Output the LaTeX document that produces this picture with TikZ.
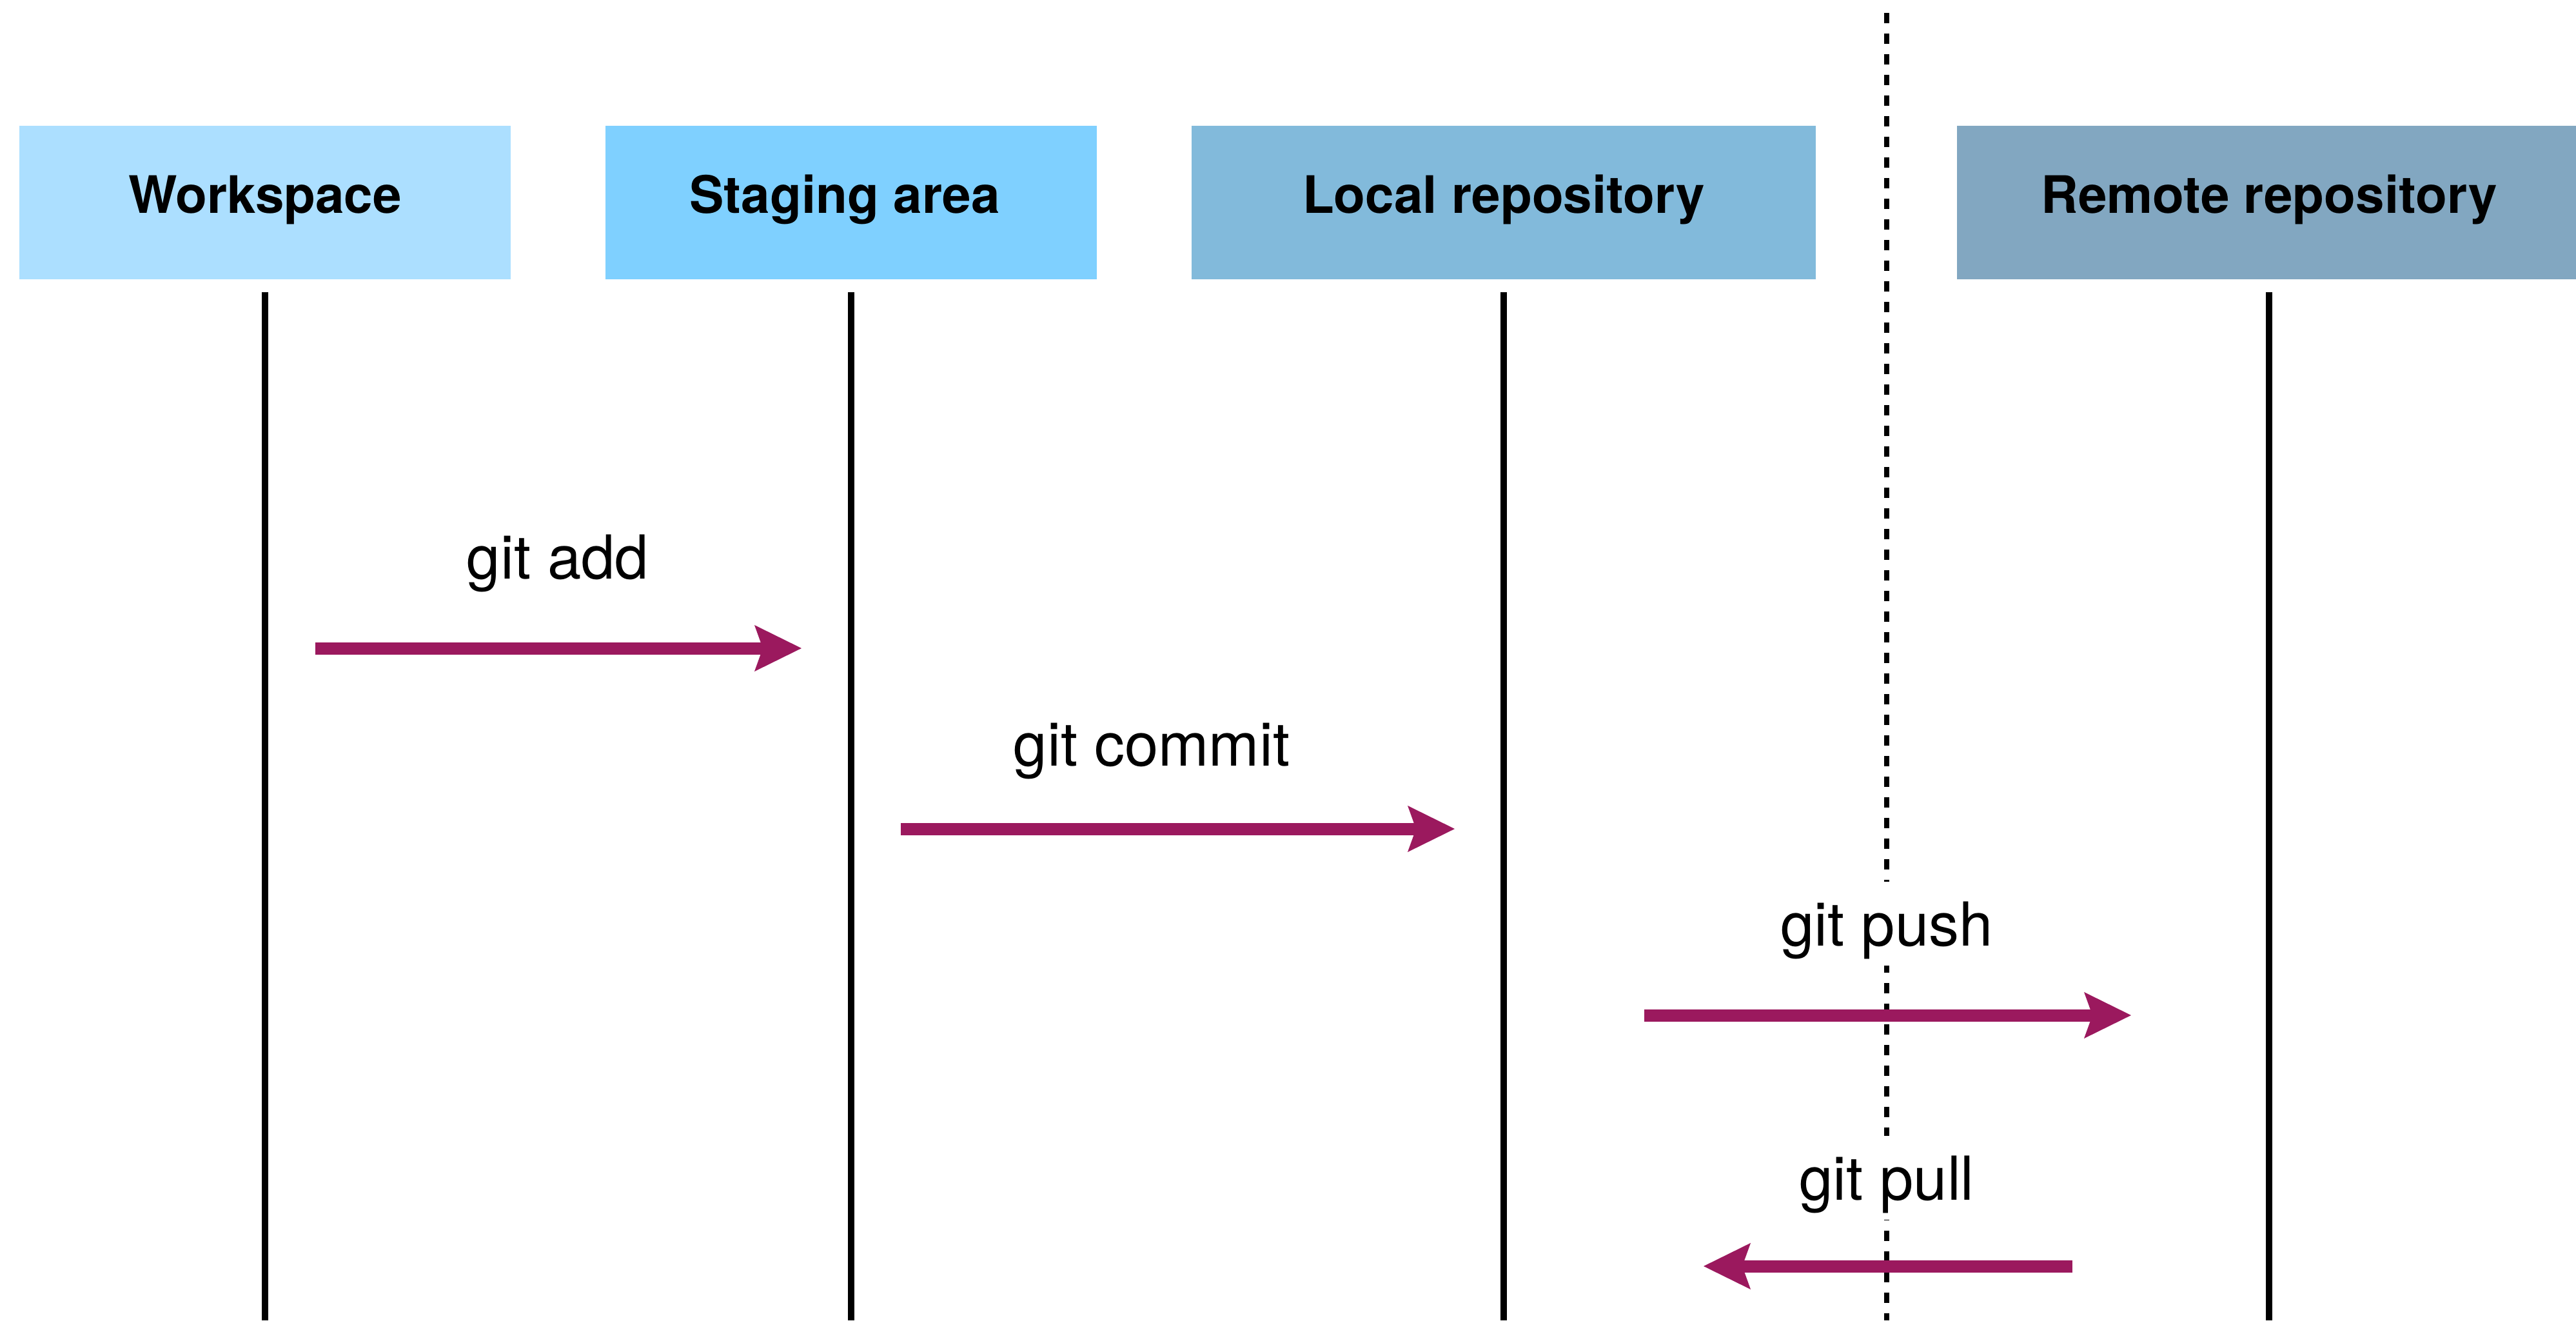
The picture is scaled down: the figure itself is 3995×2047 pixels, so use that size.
\documentclass[tikz,border=0pt]{standalone}
\usepackage{fontspec}
\setmainfont{TeX Gyre Heros}
\usetikzlibrary{arrows.meta}

\definecolor{wsblue}{RGB}{172,223,255}
\definecolor{stblue}{RGB}{127,208,255}
\definecolor{lrblue}{RGB}{130,186,219}
\definecolor{rrblue}{RGB}{130,167,193}
\definecolor{gitpurple}{RGB}{155,25,94}

\begin{document}
\begin{tikzpicture}[x=0.25pt,y=-0.25pt,
  header/.style={rectangle, minimum height=59.5pt, inner sep=0pt,
    font=\fontsize{20}{24}\selectfont\bfseries, text height=12pt, text depth=4pt},
  narrowhdr/.style={header, minimum width=190.5pt},
  widehdr/.style={header, minimum width=242pt},
  lifeline/.style={line width=2.5pt},
  divider/.style={line width=1.9pt, dash pattern=on 3.9pt off 4.1pt},
  flow/.style={line width=4.75pt, draw=gitpurple,
    -{Stealth[length=18.25pt,width=18pt,inset=3.25pt,line width=0pt]}},
  cmd/.style={fill=white, inner xsep=2pt, inner ysep=0pt, anchor=base,
    text height=24.75pt, text depth=7.75pt, font=\fontsize{23.5}{28}\selectfont}
]
\path[use as bounding box, clip] (0,0) rectangle (3995,2047);

% column headers
\node[narrowhdr, fill=wsblue] (ws) at (411,314)  {Workspace};
\node[narrowhdr, fill=stblue] (sa) at (1320,314) {Staging area\hspace*{5pt}};
\node[widehdr,   fill=lrblue] (lr) at (2332,314) {Local repository};
\node[widehdr,   fill=rrblue] (rr) at (3519,314) {Remote repository};

% lifelines down to the bottom edge
\coordinate (floor) at (0,2047);
\foreach \n in {ws,sa,lr,rr}
  \draw[lifeline] ([yshift=-4.75pt]\n.south) -- (\n.south |- floor);

% boundary between local machine and server
\coordinate (divtop) at (2926,20);
\coordinate (divbot) at (2926,2047);
\draw[divider] (divtop) -- (divbot);

% command labels
\node[cmd] (addlbl)    at (865,897)   {git add};
\node[cmd] (commitlbl) at (1786,1187) {git commit};
\node[cmd] (pushlbl)   at (2926,1466) {git push};
\node[cmd] (pulllbl)   at (2926,1860) {git pull};

% transfer arrows
\coordinate (addS) at (489,1005);   \coordinate (addE) at (1243,1005);
\coordinate (comS) at (1397,1285);  \coordinate (comE) at (2256,1285);
\coordinate (pshS) at (2550,1574);  \coordinate (pshE) at (3305,1574);
\coordinate (pulS) at (3214,1963);  \coordinate (pulE) at (2642,1963);
\draw[flow] (addS) -- (addE);
\draw[flow] (comS) -- (comE);
\draw[flow] (pshS) -- (pshE);
\draw[flow] (pulS) -- (pulE);
\end{tikzpicture}
\end{document}
